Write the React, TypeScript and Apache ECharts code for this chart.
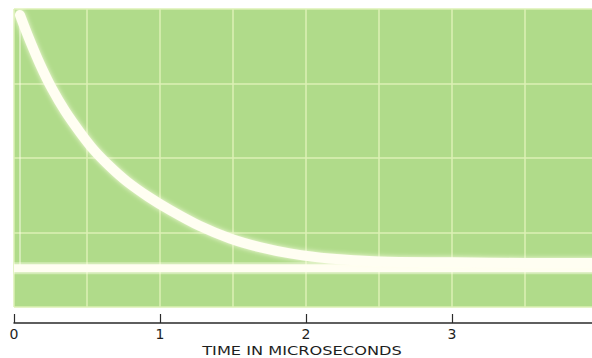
import React, { useEffect, useRef } from "react";
import * as echarts from "echarts";

// Time axis (microseconds) and trace readings (screen divisions above grid bottom)
const traceTime = [0.041, 0.1, 0.18, 0.26, 0.35, 0.45, 0.55, 0.66, 0.77, 0.92, 1.07, 1.27, 1.48, 1.69, 1.89, 2.16, 2.5, 3.0, 3.5, 4.0];
const traceLevel = [3.92, 3.62, 3.25, 2.93, 2.63, 2.35, 2.1, 1.88, 1.69, 1.48, 1.3, 1.09, 0.92, 0.8, 0.72, 0.65, 0.61, 0.6, 0.59, 0.59];
const baselineTime = [0, 1, 2, 3, 4];
const baselineLevel = [0.52, 0.52, 0.52, 0.52, 0.52];
const edgeTime = [0.041, 0.041];
const edgeLevel = [0.52, 3.92];
const tickLabels = ["0", "1", "2", "3"];
const axisTitle = "TIME IN MICROSECONDS";

export default function App() {
  const ref = useRef<HTMLDivElement>(null);
  useEffect(() => {
    if (!ref.current) return;
    const chart = echarts.init(ref.current, undefined, { renderer: "svg" });
    const gridLine = { show: true, lineStyle: { color: "#dcf1b4", width: 1.5 } };
    const glow = { shadowBlur: 5, shadowColor: "rgba(255,255,235,0.9)" };
    chart.setOption({
      animation: false,
      backgroundColor: "#ffffff",
      grid: {
        left: 14,
        width: 584,
        top: 9,
        bottom: 51,
        show: true,
        backgroundColor: "#b0db8a",
        borderWidth: 0,
        outerBoundsMode: "none",
        containLabel: false,
      },
      xAxis: [
        {
          type: "value",
          min: 0,
          max: 4,
          interval: 0.5,
          axisLine: { show: false },
          axisTick: { show: false },
          axisLabel: { show: false },
          splitLine: gridLine,
        },
        {
          type: "value",
          min: 0,
          max: 4,
          interval: 1,
          position: "bottom",
          offset: 16,
          axisLine: { show: true, lineStyle: { color: "#2a2a2a", width: 1.5 } },
          axisTick: { show: true, inside: true, length: 9, lineStyle: { color: "#2a2a2a", width: 1.2 } },
          axisLabel: {
            margin: 4,
            fontSize: 14,
            fontFamily: "DejaVu Sans",
            color: "#1e1e1e",
            formatter: (v: number) => (Number.isInteger(v) && v < tickLabels.length ? tickLabels[v] : ""),
          },
          splitLine: { show: false },
        },
      ],
      yAxis: {
        type: "value",
        min: 0,
        max: 4,
        interval: 1,
        axisLine: { show: false },
        axisTick: { show: false },
        axisLabel: { show: false },
        splitLine: gridLine,
      },
      graphic: [
        {
          type: "text",
          x: 302,
          y: 351,
          scaleX: 1.35,
          style: {
            text: axisTitle,
            fontSize: 12,
            fontFamily: "DejaVu Sans",
            fill: "#1e1e1e",
            textAlign: "center",
            textVerticalAlign: "middle",
          },
        },
      ],
      series: [
        {
          type: "line",
          xAxisIndex: 0,
          data: edgeTime.map((t, i) => [t, edgeLevel[i]]),
          showSymbol: false,
          lineStyle: { color: "rgba(255,255,235,0.45)", width: 2 },
          silent: true,
        },
        {
          type: "line",
          xAxisIndex: 0,
          data: baselineTime.map((t, i) => [t, baselineLevel[i]]),
          showSymbol: false,
          lineStyle: { color: "rgba(255,255,235,0.45)", width: 12 },
          silent: true,
        },
        {
          type: "line",
          xAxisIndex: 0,
          data: baselineTime.map((t, i) => [t, baselineLevel[i]]),
          showSymbol: false,
          lineStyle: { color: "#fffef2", width: 8 },
          silent: true,
        },
        {
          type: "line",
          xAxisIndex: 0,
          data: traceTime.map((t, i) => [t, traceLevel[i]]),
          smooth: 0.3,
          showSymbol: false,
          lineStyle: { color: "#fffef2", width: 10, cap: "round", ...glow },
          silent: true,
        },
      ],
    });
    return () => chart.dispose();
  }, []);
  return (
    <div
      ref={ref}
      style={{ position: "fixed", left: 0, top: 0, width: 592, height: 358, background: "#fff" }}
    />
  );
}
